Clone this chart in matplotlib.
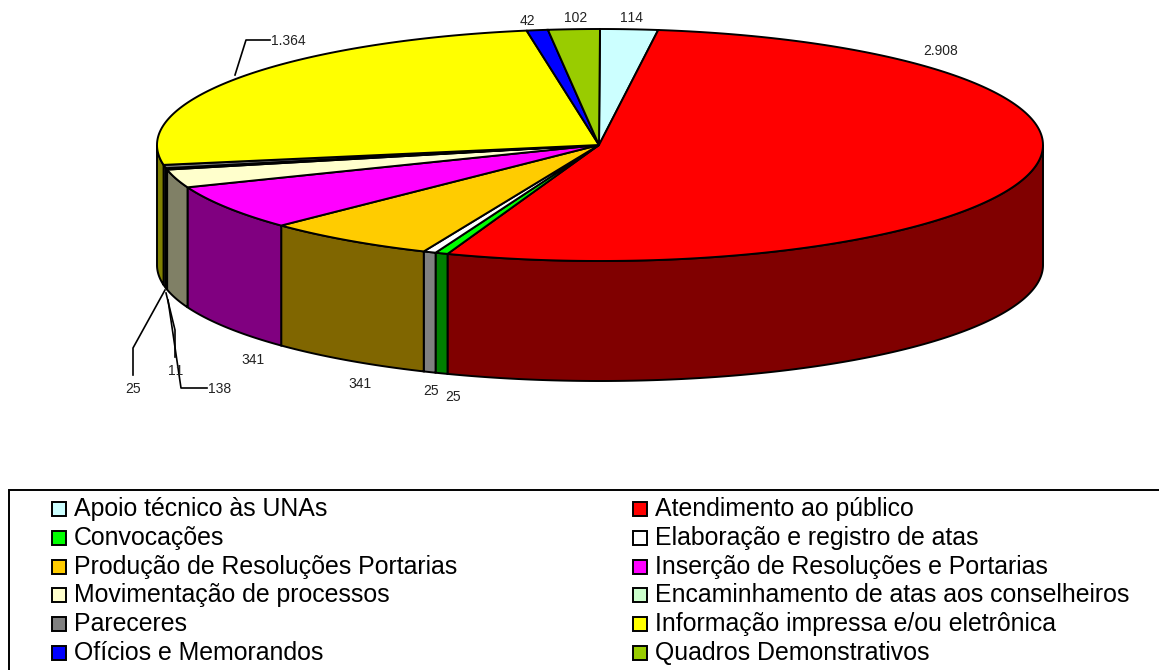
import numpy as np
import matplotlib.pyplot as plt
from matplotlib.patches import Polygon, Rectangle

plt.rcParams['font.family'] = ['Liberation Sans', 'DejaVu Sans']
plt.rcParams['text.kerning_factor'] = 6

# slices, clockwise from 12 o'clock
categories = ['Apoio técnico às UNAs', 'Atendimento ao público', 'Convocações',
              'Elaboração e registro de atas', 'Produção de Resoluções Portarias',
              'Inserção de Resoluções e Portarias', 'Movimentação de processos',
              'Encaminhamento de atas aos conselheiros', 'Pareceres',
              'Informação impressa e/ou eletrônica', 'Ofícios e Memorandos',
              'Quadros Demonstrativos']
values = [114, 2908, 25, 25, 341, 341, 138, 11, 25, 1364, 42, 102]
value_labels = ['114', '2.908', '25', '25', '341', '341', '138', '11', '25', '1.364', '42', '102']
top_colors = ['#CCFFFF', '#FF0000', '#00FF00', '#FFFFFF', '#FFCC00', '#FF00FF',
              '#FFFFCC', '#CCFFCC', '#808080', '#FFFF00', '#0000FF', '#99CC00']
side_colors = ['#668080', '#800000', '#008000', '#808080', '#806600', '#800080',
               '#808066', '#668066', '#404040', '#808000', '#000080', '#4D6600']

# pixel layout of the 3d pie
cx, cy, rx, ry, depth = 600, 145, 443, 116, 120

label_pos = [(631, 18), (941, 51), (453, 397), (431, 391), (360, 384), (253, 360),
             (220, 389), (176, 371), (133, 389), (288, 41), (527, 21), (576, 18)]
leaders = [[(235, 75), (246, 40), (270, 40)],
           [(165, 290), (133, 348), (133, 375)],
           [(166, 293), (175, 330), (175, 357)],
           [(168, 300), (181, 388), (207, 388)]]


def rim(t):
    t = np.radians(t)
    return cx + rx * np.sin(t), cy - ry * np.cos(t)


fig = plt.figure(figsize=(11.59, 6.7), dpi=100)
ax = fig.add_axes([0, 0, 1, 1])
ax.set_xlim(0, 1159)
ax.set_ylim(670, 0)
ax.axis('off')

angles = np.concatenate([[0], np.cumsum(values)]) * 360 / sum(values)

# side walls, only the front half can be seen
for i in range(len(values)):
    a = max(angles[i], 90)
    b = min(angles[i + 1], 270)
    if b <= a:
        continue
    t = np.linspace(a, b, 200)
    x, y = rim(t)
    pts = np.column_stack([np.r_[x, x[::-1]], np.r_[y, y[::-1] + depth]])
    ax.add_patch(Polygon(pts, closed=True, fc=side_colors[i], ec='black', lw=1.4, zorder=2))

# top face
for i in range(len(values)):
    t = np.linspace(angles[i], angles[i + 1], 200)
    x, y = rim(t)
    pts = np.column_stack([np.r_[cx - 1, x], np.r_[cy, y]])
    ax.add_patch(Polygon(pts, closed=True, fc=top_colors[i], ec='black', lw=1.4, zorder=3))

for line in leaders:
    xs, ys = zip(*line)
    ax.plot(xs, ys, color='black', lw=1.2, zorder=4)

for (x, y), txt in zip(label_pos, value_labels):
    ax.text(x, y, txt, fontsize=10, ha='center', va='center', color='#222222', zorder=5)

# legend box runs off the right and bottom of the picture
ax.add_patch(Rectangle((9, 490), 1200, 220, fc='white', ec='black', lw=1.4, zorder=1))
row_y = [509, 538, 567, 595, 624, 653]
col_x = [52, 633]
for i, name in enumerate(categories):
    x = col_x[i % 2]
    y = row_y[i // 2]
    ax.add_patch(Rectangle((x, y - 7), 14, 14, fc=top_colors[i], ec='black', lw=1.4, zorder=2))
    ax.text(x + 22, y, name, fontsize=17.9, ha='left', va='center', color='black', zorder=2)

fig.savefig('out.png', dpi=100)
